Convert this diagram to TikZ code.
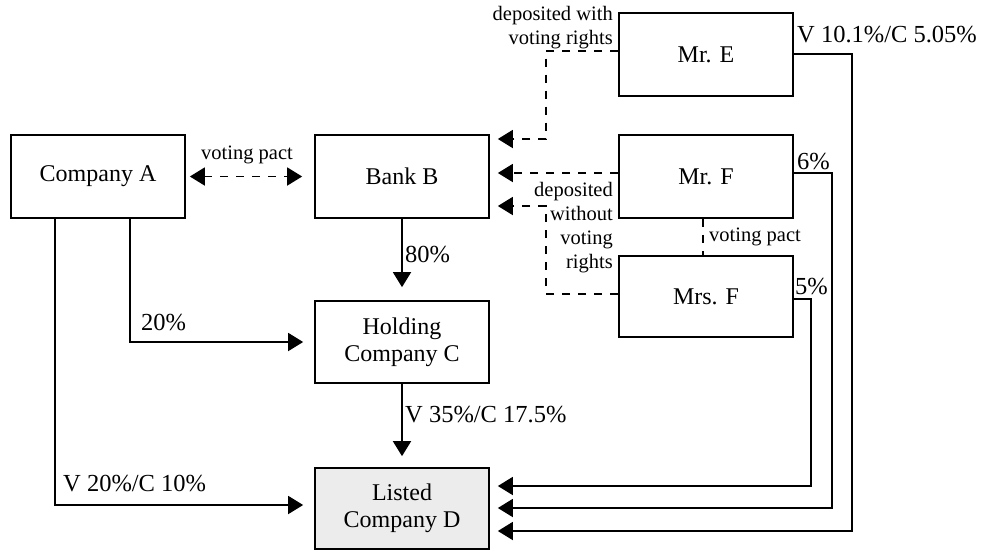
\documentclass[tikz,border=0pt]{standalone}
\usepackage{fontspec}
\setmainfont{Liberation Serif}
\usetikzlibrary{arrows.meta,calc}
\begin{document}
\begin{tikzpicture}[x=1pt,y=-1pt,
 box/.style={draw,line width=1.7pt,minimum width=174pt,minimum height=83pt,inner sep=0pt,align=center,font=\fontsize{24}{27}\selectfont},
 ln/.style={line width=1.7pt},
 tipa/.tip={Triangle[length=15pt,width=18pt]},
 arr/.style={ln,-tipa},
 dsh/.style={ln,dash pattern=on 8pt off 8pt},
 lbl/.style={font=\fontsize{24.5}{27}\selectfont,inner sep=0pt},
 sml/.style={font=\fontsize{20.5}{24}\selectfont,inner sep=0pt}]
\useasboundingbox (0,0) rectangle (987,550);

\node[box] (A) at (98,176.5) {Company A};
\node[box] (B) at (402,176.5) {Bank B};
\node[box,minimum height=82pt] (C) at (402,342) {Holding\\Company C};
\node[box,fill=gray!15,minimum height=81pt] (D) at (402,508.5) {Listed\\Company D};
\node[box] (E) at (706,54.5) {Mr. E};
\node[box] (F) at (706,176.5) {Mr. F};
\node[box,minimum height=81pt] (G) at (706,296.5) {Mrs. F};

% voting pact A-B
\draw[dsh,tipa-tipa,shorten <=4pt,shorten >=12pt] (A.east) -- (B.west);
\node[sml] (vp1) at (247,155) {voting pact};

% A -> C, A -> D
\draw[arr,shorten >=11pt] ([xshift=32pt]A.south) |- (C.west);
\node[lbl,anchor=west] (l20) at (141,323) {20\%};
\draw[arr,shorten >=11pt] ([xshift=-43pt]A.south) |- ([yshift=3.5pt]D.west);
\node[lbl,anchor=west] (l2010) at (63,484) {V 20\%/C 10\%};

% B -> C -> D
\draw[arr,shorten >=13pt] (B.south) -- (C.north);
\node[lbl,anchor=west] (l80) at (405,255) {80\%};
\draw[arr,shorten >=11pt] (C.south) -- (D.north);
\node[lbl,anchor=west] (l35) at (405,415) {V 35\%/C 17.5\%};

% deposits into Bank B
\coordinate (k1) at (546,139);
\coordinate (k2) at (546,206);
\draw[dsh,-tipa,shorten >=8pt] ([yshift=3.8pt]E.west) -| (k1) -- ([yshift=37.5pt]B.east);
\draw[dsh,-tipa,shorten >=8pt] ([yshift=3.5pt]F.west) -- ([yshift=3.5pt]B.east);
\draw[dsh,-tipa,shorten >=8pt] ([yshift=2.5pt]G.west) -| (k2) -- ([yshift=-29.5pt]B.east);
\node[sml,align=right,anchor=east] (dep1) at (613,27.5) {deposited with\\voting rights};
\node[sml,align=right,anchor=east] (dep2) at (613,227.5) {deposited\\without\\voting\\rights};

% voting pact F - Mrs F
\draw[dsh] ([xshift=-3pt]F.south) -- ([xshift=-3pt]G.north);
\node[sml,anchor=west] (vp2) at (709,237) {voting pact};

% holdings into D
\coordinate (r1) at (852,531);
\coordinate (r2) at (832,508);
\coordinate (r3) at (811,486);
\draw[arr,shorten >=8pt] ([yshift=0.5pt]E.east) -| (r1) -- ([yshift=-22.5pt]D.east);
\draw[arr,shorten >=8pt] ([yshift=3.5pt]F.east) -| (r2) -- ([yshift=0.5pt]D.east);
\draw[arr,shorten >=8pt] ([yshift=-2.5pt]G.east) -| (r3) -- ([yshift=22.5pt]D.east);
\node[lbl,anchor=west] (lE) at (797,35) {V 10.1\%/C 5.05\%};
\node[lbl,anchor=west] (lF) at (797,162) {6\%};
\node[lbl,anchor=west] (lG) at (795,287) {5\%};
\end{tikzpicture}
\end{document}
